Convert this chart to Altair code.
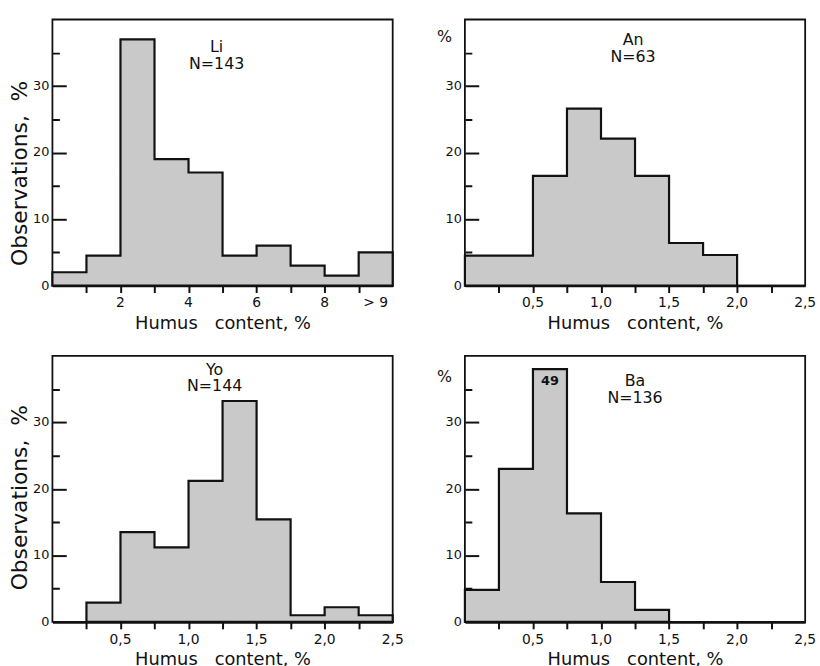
import altair as alt
import pandas as pd

FONT = "DejaVu Sans"
FILL = "#c9c9c9"
INK = "#111111"

# ---- data: percent of observations per humus-content class ----
li_edges = [0, 1, 2, 3, 4, 5, 6, 7, 8, 9, 10]
li_pct = [2.0, 4.5, 37.0, 19.0, 17.0, 4.5, 6.0, 3.0, 1.5, 5.0]

an_edges = [0.0, 0.25, 0.5, 0.75, 1.0, 1.25, 1.5, 1.75, 2.0]
an_pct = [4.5, 4.5, 16.5, 26.6, 22.1, 16.5, 6.4, 4.6]

yo_edges = [0.25, 0.5, 0.75, 1.0, 1.25, 1.5, 1.75, 2.0, 2.25, 2.5]
yo_pct = [2.9, 13.5, 11.2, 21.2, 33.2, 15.4, 1.0, 2.2, 1.0]

ba_edges = [0.0, 0.25, 0.5, 0.75, 1.0, 1.25, 1.5]
ba_pct = [4.8, 23.0, 49.0, 16.3, 6.0, 1.8]

li_labels = [2, 4, 6, 8, 9.5]
li_ticks = [1, 2, 3, 4, 5, 6, 7, 8, 9]
frac_labels = [0.5, 1.0, 1.5, 2.0, 2.5]
frac_ticks = [0.25, 0.5, 0.75, 1.0, 1.25, 1.5, 1.75, 2.0, 2.25]
y_labels = [0, 10, 20, 30]
y_ticks = [5, 10, 15, 20, 25, 30, 35]
BREAK = 38  # the off-scale bar is drawn broken at this level

W, H = 344, 269
XTITLE = "Humus\u00a0\u00a0\u00a0content,\u00a0%"
LI_LAB = "datum.t == 9.5 ? '> 9' : format(datum.t, 'd')"
FRAC_LAB = "replace(format(datum.t, '.1f'), '.', ',')"


def x_axis(ticks):
    return alt.Axis(
        values=ticks, labels=False, ticks=True, tickSize=7, tickWidth=2,
        tickColor=INK, domain=True, domainWidth=2.6, domainColor=INK,
        grid=False, title=XTITLE, titleFontSize=18, titlePadding=21,
        titleFontWeight="normal",
    )


def y_axis(left_col, title_y):
    kw = dict(
        values=y_ticks, labels=False, offset=-14, ticks=True, tickSize=14,
        tickWidth=2, tickColor=INK,
        tickDash={"condition": {"test": "datum.value % 10 != 0",
                                "value": [0, 7, 7]}, "value": [14, 0]},
        domain=False, grid=False, titleFontWeight="normal",
        titleAlign="center", titleBaseline="middle",
    )
    if left_col:
        kw.update(title="Observations,\u00a0\u00a0%", titleAngle=270,
                  titleX=-47, titleY=title_y, titleFontSize=22)
    else:
        kw.update(title="%", titleAngle=0, titleX=-35, titleY=title_y,
                  titleFontSize=16)
    return alt.Axis(**kw)


def panel(name, n, edges, pct, xdomain, xticks, xlabels, lab_expr,
          left_col, title_y, t_off, t_dx):
    steps = pd.DataFrame({"x": edges, "pct": pct + [pct[-1]]})
    bars = pd.DataFrame({
        "mid": [(a + b) / 2 for a, b in zip(edges[:-1], edges[1:])],
        "pct": pct,
    })
    xs = alt.Scale(domain=xdomain, nice=False, zero=False)
    ys = alt.Scale(domain=[0, 40], nice=False)

    area = (
        alt.Chart(steps)
        .transform_calculate(disp=f"min(datum.pct, {BREAK})")
        .mark_area(interpolate="step-after", fill=FILL, stroke=INK,
                   strokeWidth=2.2, strokeJoin="miter")
        .encode(x=alt.X("x:Q", scale=xs, axis=x_axis(xticks)),
                y=alt.Y("disp:Q", scale=ys, axis=y_axis(left_col, title_y)))
    )
    ylab = (
        alt.Chart(pd.DataFrame({"v": y_labels}))
        .mark_text(font=FONT, fontSize=13, color=INK, align="right",
                   baseline="middle")
        .encode(y=alt.Y("v:Q"), x=alt.value(-3), text=alt.Text("v:Q"))
    )
    xlab = (
        alt.Chart(pd.DataFrame({"t": xlabels}))
        .transform_calculate(lab=lab_expr)
        .mark_text(font=FONT, fontSize=14, color=INK, align="center",
                   baseline="top")
        .encode(x=alt.X("t:Q"), y=alt.value(H + 11), text=alt.Text("lab:N"))
    )
    broken = (
        alt.Chart(bars)
        .transform_filter(f"datum.pct > {BREAK}")
        .transform_calculate(disp=f"min(datum.pct, {BREAK})")
        .mark_text(font=FONT, fontSize=13, fontWeight="bold", color=INK,
                   baseline="top", dy=6)
        .encode(x=alt.X("mid:Q"), y=alt.Y("disp:Q"),
                text=alt.Text("pct:Q", format=".0f"))
    )
    return alt.layer(area, ylab, xlab, broken).properties(
        width=W, height=H,
        title=alt.TitleParams(
            text=[name, f"N={n}"], anchor="middle", frame="group",
            orient="top", offset=t_off, fontSize=16,
            fontWeight="normal", font=FONT, color=INK, lineHeight=17, dx=t_dx,
        ),
    )


p_li = panel("Li", 143, li_edges, li_pct, [0, 10], li_ticks, li_labels,
             LI_LAB, True, 155, -53, -6)
p_an = panel("An", 63, an_edges, an_pct, [0, 2.5], frac_ticks, frac_labels,
             FRAC_LAB, False, 17, -46, -2)
p_yo = panel("Yo", 144, yo_edges, yo_pct, [0, 2.5], frac_ticks, frac_labels,
             FRAC_LAB, True, 143, -39, -8)
p_ba = panel("Ba", 136, ba_edges, ba_pct, [0, 2.5], frac_ticks, frac_labels,
             FRAC_LAB, False, 21, -51, 0)

chart = (
    alt.concat(p_li, p_an, p_yo, p_ba, columns=2,
               spacing={"column": 30, "row": 22})
    .properties(padding={"left": 8, "top": 15, "right": 2, "bottom": 2},
                background="white")
    .configure_view(stroke=INK, strokeWidth=1.8)
    .configure_axis(labelFont=FONT, titleFont=FONT, labelColor=INK,
                    titleColor=INK)
)

chart.save("out.html", embed_options={"renderer": "svg", "actions": False})
